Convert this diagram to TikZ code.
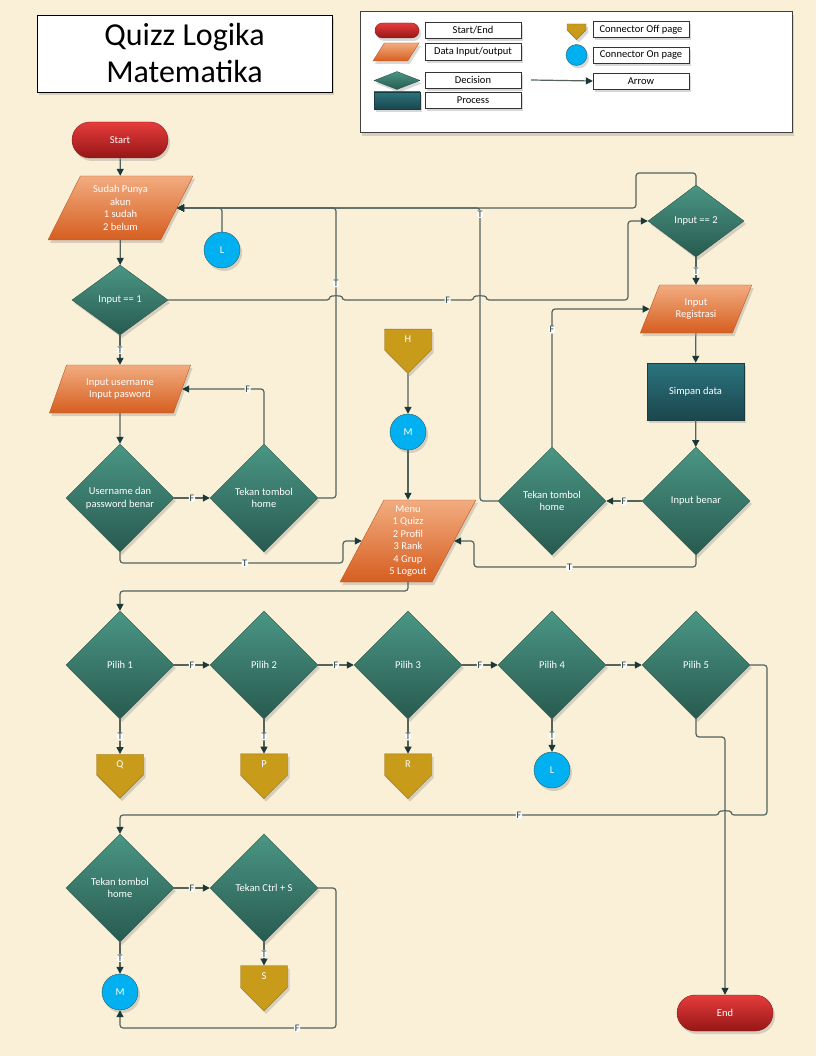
\documentclass[tikz,border=0pt]{standalone}
\usepackage{fontspec}
\setmainfont{Carlito}
\usetikzlibrary{
    arrows.meta,
    shapes.geometric,
    shapes.symbols,
    shadows
}
\definecolor{paper}{RGB}{250,240,216}
\definecolor{wire}{RGB}{84,100,92}
\definecolor{tipcol}{RGB}{28,56,56}
\tikzset{
    every node/.style={font=\fontsize{10.5}{12.5}\selectfont, text=white, align=center},
    shad/.style={drop shadow={shadow xshift=2pt, shadow yshift=-3pt, opacity=.3}},
    term/.style={shad, rectangle, rounded corners=18pt, minimum width=96pt, minimum height=36pt,
        top color={rgb,255:red,230;green,60;blue,60}, bottom color={rgb,255:red,150;green,22;blue,22},
        draw={rgb,255:red,140;green,25;blue,25}, thin},
    io/.style={shad, trapezium, trapezium left angle=64, trapezium right angle=116, trapezium stretches=true,
        inner sep=1pt, top color={rgb,255:red,242;green,172;blue,128}, bottom color={rgb,255:red,214;green,94;blue,32},
        draw={rgb,255:red,190;green,85;blue,30}, thin},
    dec/.style={shad, diamond, aspect=1, inner sep=1pt, minimum width=108pt, minimum height=108pt,
        top color={rgb,255:red,74;green,150;blue,132}, bottom color={rgb,255:red,40;green,90;blue,80},
        draw={rgb,255:red,40;green,84;blue,74}, thin},
    proc/.style={shad, rectangle, minimum width=97pt, minimum height=57pt,
        top color={rgb,255:red,42;green,116;blue,126}, bottom color={rgb,255:red,28;green,70;blue,76},
        draw={rgb,255:red,25;green,60;blue,65}, thin},
    offp/.style={shad, signal, signal to=south, signal pointer angle=90, inner sep=1pt,
        minimum width=47pt, minimum height=25pt, fill={rgb,255:red,200;green,155;blue,26},
        draw={rgb,255:red,150;green,112;blue,20}, thin},
    onp/.style={shad, circle, minimum size=36pt, inner sep=0pt, fill={rgb,255:red,0;green,176;blue,240},
        draw={rgb,255:red,45;green,90;blue,100}, thin},
    keybox/.style={shad, rectangle, draw=black!80, fill=white, text=black, thin,
        minimum width=96pt, minimum height=16pt, inner sep=0pt, font=\fontsize{10.5}{10.5}\selectfont},
    wire/.style={draw=wire, line width=1.2pt, rounded corners=3pt,
        -{Triangle[length=7pt,width=7pt,color=tipcol]}},
    lbl/.style={fill=white, text=tipcol, inner sep=0.8pt, font=\fontsize{10}{10}\selectfont}
}
\begin{document}
\begin{tikzpicture}[x=1pt,y=-1pt]
    \fill[paper] (0,0) rectangle (816,1056);
    \useasboundingbox (0,0) rectangle (816,1056);

    % judul dan keterangan
    \node[shad, draw=black, fill=white, text=black, minimum width=295pt, minimum height=77pt,
        font=\fontsize{32}{37}\selectfont] (judul) at (184.5,53.5) {Quizz Logika\\Matematika};
    \node[shad, draw=black!75, line width=1pt, fill=white, minimum width=432pt, minimum height=121pt] (ket) at (576,72.5) {};
    \node[term, minimum width=44pt, minimum height=15pt, rounded corners=7.5pt] (kTerm) at (397,30.5) {};
    \node[io, minimum width=46pt, minimum height=18pt] (kIO) at (396,52) {};
    \node[dec, minimum width=46pt, minimum height=18pt] (kDec) at (397,80.5) {};
    \node[proc, minimum width=46pt, minimum height=17pt] (kProc) at (397,100.5) {};
    \node[keybox] (tTerm) at (473,30) {Start/End};
    \node[keybox, minimum height=17pt] (tIO) at (473,51.5) {Data Input/output};
    \node[keybox] (tDec) at (473,80) {Decision};
    \node[keybox] (tProc) at (473,100) {Process};
    \node[offp, minimum width=19pt, minimum height=7pt] (kOff) at (576.5,27) {};
    \node[onp, minimum size=21pt] (kOn) at (576.5,55) {};
    \node[keybox] (tOff) at (641,29.5) {Connector Off page};
    \node[keybox] (tOn) at (641,55) {Connector On page};
    \node[keybox] (tArrow) at (641,81) {Arrow};
    \coordinate (kA) at (531,80);
    \draw[wire] (kA) -- (tArrow.west);

    % login
    \node[term] (start) at (120,140) {Start};
    \node[io, minimum width=145pt, minimum height=64pt] (akun) at (120.5,208) {Sudah Punya\\akun\\1 sudah\\2 belum};
    \node[onp] (onL) at (222,250) {L};
    \node[dec, minimum width=96pt, minimum height=70pt] (in1) at (120,300) {Input == 1};
    \node[io, minimum width=142pt, minimum height=48pt] (login) at (120,389) {Input username\\Input pasword};
    \node[dec] (cek) at (120,498) {Username dan\\password benar};
    \node[dec] (home1) at (264,498) {Tekan tombol\\home};

    % registrasi
    \node[dec, minimum width=96pt, minimum height=72pt] (in2) at (696,221) {Input == 2};
    \node[io, minimum width=112pt, minimum height=48pt] (reg) at (696,309) {Input\\Registrasi};
    \node[proc] (simpan) at (695.5,391.5) {Simpan data};
    \node[dec] (benar) at (696,501) {Input benar};
    \node[dec] (home2) at (552,501) {Tekan tombol\\home};

    % menu
    \node[offp] (offH) at (408,339.5) {H};
    \node[onp] (onM) at (408,432) {M};
    \node[io, minimum width=136pt, minimum height=82pt] (menu) at (408,541) {Menu\\1 Quizz\\2 Profil\\3 Rank\\4 Grup\\5 Logout};
    \foreach \i/\x in {1/120,2/264,3/408,4/552,5/696}
        \node[dec] (p\i) at (\x,665) {Pilih \i};
    \node[offp] (offQ) at (120,764.5) {Q};
    \node[offp] (offP) at (264,764.5) {P};
    \node[offp] (offR) at (408,764.5) {R};
    \node[onp] (onL2) at (552,770) {L};
    \node[dec] (home3) at (120,888) {Tekan tombol\\home};
    \node[dec] (ctrl) at (264,888) {Tekan Ctrl + S};
    \node[onp] (onM2) at (120,992) {M};
    \node[offp] (offS) at (264,976.5) {S};
    \node[term] (end) at (725,1013) {End};

    % alur
    \draw[wire] (start) -- (akun);
    \draw[wire] (akun) -- (in1);
    \draw[wire] (onL.north) |- (akun.east);
    \draw[wire] (in1) -- node[lbl]{T} (login);
    \draw[wire] (in1.east) -- (330,300) to[out=90,in=90] (342,300) -- node[lbl,pos=.8]{F} (474,300)
        to[out=90,in=90] (486,300) -- (628,300) |- (in2.west);
    \draw[wire] (login) -- (cek);
    \draw[wire] (cek) -- node[lbl]{F} (home1);
    \draw[wire] (home1.north) |- node[lbl,pos=.6]{F} (login.east);
    \draw[wire] (home1.east) -- (336,498) -- node[lbl,pos=.74]{T} (336,208) -- (akun.east);
    \draw[wire] (cek.south) -- (120,563) -- node[lbl,pos=.56]{T} (343,563) |- (menu.west);
    \draw[wire] (in2.north) -- (696,173) -- (636,173) -- (636,208) -- (akun.east);
    \draw[wire] (in2) -- node[lbl]{T} (reg);
    \draw[wire] (reg) -- (simpan);
    \draw[wire] (simpan) -- (benar);
    \draw[wire] (benar) -- node[lbl]{F} (home2);
    \draw[wire] (home2.north) -- node[lbl,pos=.85]{F} (552,309) -- (reg.west);
    \draw[wire] (home2.west) -- (480,501) -- node[lbl,pos=.98]{T} (480,208) -- (akun.east);
    \draw[wire] (benar.south) -- (696,567) -- node[lbl,pos=.57]{T} (474,567) |- (menu.east);
    \draw[wire] (offH) -- (onM);
    \draw[wire] (onM) -- (menu);
    \draw[wire] (menu.south) -- (408,591) -- (120,591) -- (p1.north);
    \foreach \i [evaluate=\i as \j using int(\i+1)] in {1,...,4}
        \draw[wire] (p\i) -- node[lbl]{F} (p\j);
    \foreach \i/\c in {1/offQ,2/offP,3/offR,4/onL2}
        \draw[wire] (p\i.south) -- node[lbl]{T} (\c.north);
    \draw[wire] (p5.east) -- (767,665) -- (767,815) -- (731,815) to[out=90,in=90] (719,815)
        -- node[lbl,pos=.334]{F} (120,815) -- (home3.north);
    \draw[wire] (p5.south) -- (696,737) -- (725,737) -- (end.north);
    \draw[wire] (home3) -- node[lbl]{F} (ctrl);
    \draw[wire] (home3.south) -- node[lbl]{T} (onM2.north);
    \draw[wire] (ctrl.south) -- node[lbl]{T} (offS.north);
    \draw[wire] (ctrl.east) -- (336,888) -- (336,1028) -- node[lbl,pos=.18]{F} (120,1028) -- (onM2.south);
\end{tikzpicture}
\end{document}
